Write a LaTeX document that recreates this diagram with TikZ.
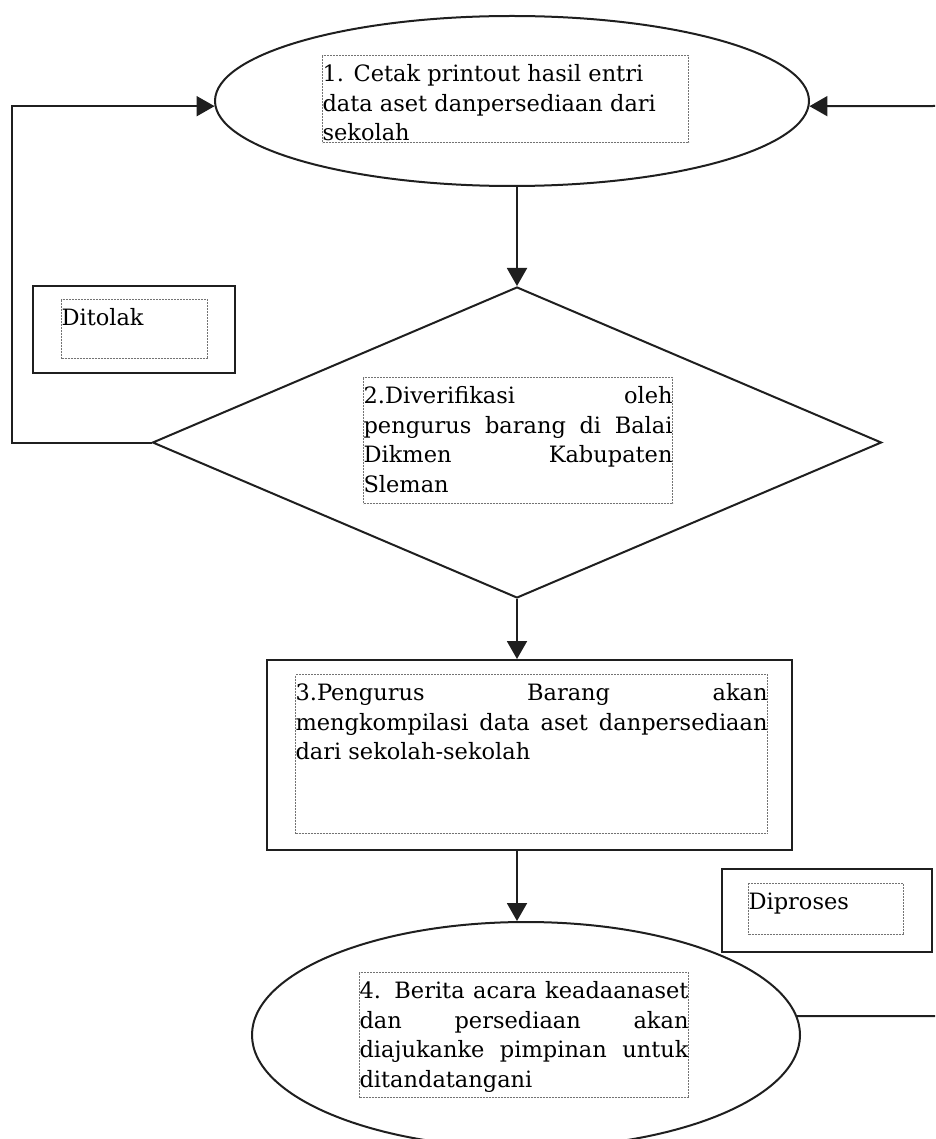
\documentclass[tikz,border=0pt]{standalone}
\usepackage{fontspec}
\setmainfont{DejaVu Serif}
\usetikzlibrary{shapes.geometric,arrows.meta}
\newlength{\du}
\setlength{\du}{1\unitlength}
\definecolor{dialinecolor}{rgb}{0.120000, 0.120000, 0.120000}
\definecolor{framecolor}{rgb}{0.450000, 0.450000, 0.450000}
\newcommand{\topline}{\rule{0pt}{26\du}}
\newcommand{\jline}[1]{\makebox[\linewidth][s]{#1}\\}

\begin{document}
\begin{tikzpicture}[
  flowline/.style={line width=2\du, draw=dialinecolor},
  flowarrow/.style={flowline, -{Triangle[length=18pt,width=20pt]}},
  shapebox/.style={flowline, fill=white, inner sep=0pt},
  textframe/.style={draw=framecolor, line width=1.1\du, dash pattern=on 2\du off 1\du, inner sep=0pt, anchor=north west},
  font=\fontsize{22.5}{29.5}\selectfont
]
\pgftransformxscale{1.000000}
\pgftransformyscale{-1.000000}
\useasboundingbox (0\du,0\du) rectangle (935\du,1139\du);
\clip (0\du,0\du) rectangle (935\du,1139\du);
% shapes
\node[shapebox, ellipse, minimum width=594\du, minimum height=170\du] (cetak) at (512\du,101\du) {};
\node[textframe] (cetaktext) at (322\du,55\du) {\parbox[c][87\du][t]{366\du}{\topline 1. Cetak printout hasil entri\\ data aset danpersediaan dari\\ sekolah}};
\node[shapebox, diamond, minimum width=729\du, minimum height=311\du] (verifikasi) at (517\du,442.5\du) {};
\node[textframe] (verifikasitext) at (363\du,377\du) {\parbox[c][126\du][t]{309\du}{\topline\jline{2.Diverifikasi oleh}\jline{pengurus barang di Balai}\jline{Dikmen Kabupaten}Sleman}};
\node[shapebox, minimum width=202\du, minimum height=87\du] (ditolak) at (134\du,329.5\du) {};
\node[textframe] (ditolaktext) at (61\du,299\du) {\parbox[c][59\du][t]{146\du}{\topline Ditolak}};
\node[shapebox, minimum width=525\du, minimum height=190\du] (kompilasi) at (529.5\du,755\du) {};
\node[textframe] (kompilasitext) at (295\du,674\du) {\parbox[c][159\du][t]{472\du}{\topline\jline{3.Pengurus Barang akan}\jline{mengkompilasi data aset danpersediaan}dari sekolah-sekolah}};
\node[shapebox, minimum width=210\du, minimum height=83\du] (diproses) at (827\du,910.5\du) {};
\node[textframe] (diprosestext) at (748\du,883\du) {\parbox[c][51\du][t]{155\du}{\topline Diproses}};
\node[shapebox, ellipse, minimum width=548\du, minimum height=226\du] (berita) at (526\du,1035\du) {};
\node[textframe] (beritatext) at (359\du,972\du) {\parbox[c][125\du][t]{329\du}{\topline\jline{4. Berita acara keadaanaset}\jline{dan persediaan akan}\jline{diajukanke pimpinan untuk}ditandatangani}};
% connectors
\draw[flowarrow] (verifikasi.north |- cetak.south) -- (verifikasi.north);
\draw[flowarrow] (verifikasi.south) -- (verifikasi.south |- kompilasi.north);
\draw[flowarrow] (verifikasi.south |- kompilasi.south) -- (verifikasi.south |- berita.north);
\draw[flowarrow] (verifikasi.west) -- ++(-140\du,0) |- (cetak.181);
\coordinate (masuk) at (935\du,106\du);
\draw[flowarrow] (masuk) -- (cetak.-1);
\coordinate (keluar) at (935\du,1016\du);
\draw[flowline] (berita.4) -- (keluar);
\end{tikzpicture}
\end{document}
